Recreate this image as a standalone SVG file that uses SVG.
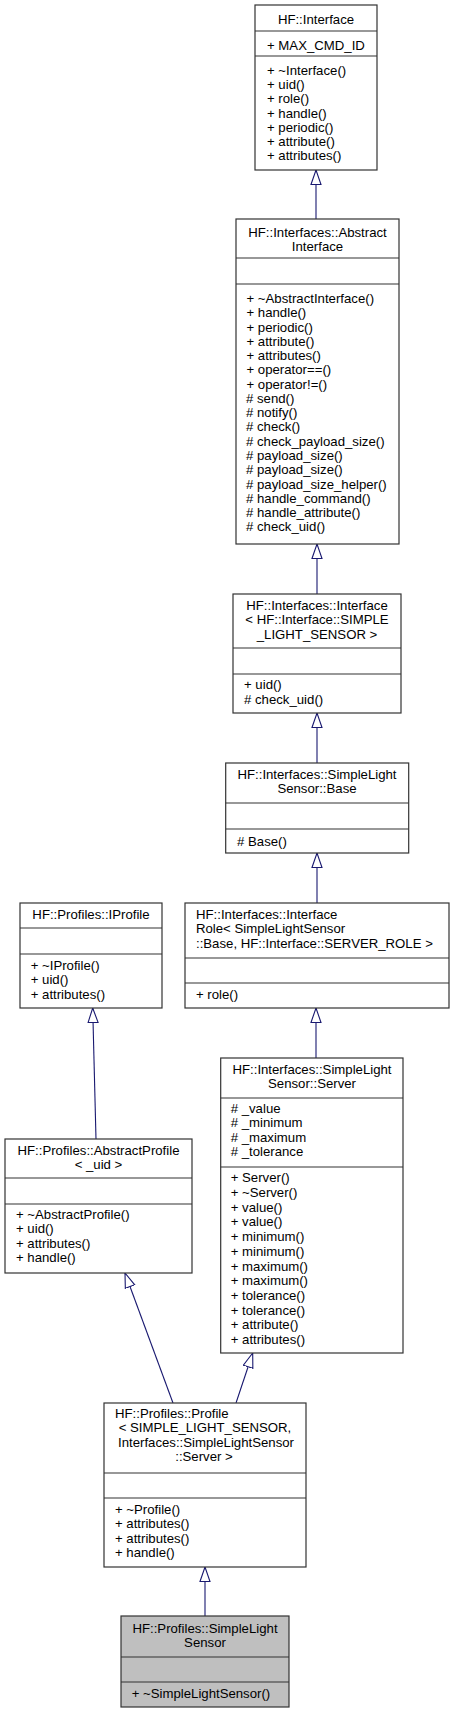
<svg xmlns="http://www.w3.org/2000/svg" width="455" height="1713" viewBox="0 0 455 1713">
<style>
.b{fill:#fff;stroke:#333;stroke-width:1.2}
.g{fill:#bfbfbf;stroke:#333;stroke-width:1.2}
.s{stroke:#333;stroke-width:1.2}
text{font-family:"Liberation Sans",Arial,Helvetica,sans-serif;font-size:13.2px;fill:#000}
.c{text-anchor:middle}
.e{fill:none;stroke:#191970;stroke-width:1.1;marker-end:url(#inh)}
</style>
<defs>
<marker id="inh" markerWidth="16" markerHeight="12" refX="15" refY="6" orient="auto" markerUnits="userSpaceOnUse">
<path d="M0.5,1 L15,6 L0.5,11 Z" fill="#fff" stroke="#191970" stroke-width="1.1"/>
</marker>
</defs>
<rect width="455" height="1713" fill="#fff"/>

<g id="connectors">
<path class="e" d="M316,219 L316,170"/>
<path class="e" d="M317,594 L317,544"/>
<path class="e" d="M317,763 L317,713"/>
<path class="e" d="M317,903 L317,853"/>
<path class="e" d="M316,1058 L316,1008"/>
<path class="e" d="M96,1139 L92.7,1008"/>
<path class="e" d="M173,1403 L125,1273"/>
<path class="e" d="M236,1403 L252.7,1353"/>
<path class="e" d="M205,1616 L205,1567"/>
</g>

<g id="node-HF-Interface">
<rect class="b" x="255" y="5" width="122" height="165"/>
<line class="s" x1="255" y1="31" x2="377" y2="31"/>
<line class="s" x1="255" y1="56" x2="377" y2="56"/>
<text class="c" x="316" y="23.5">HF::Interface</text>
<text x="267" y="50">+ MAX_CMD_ID</text>
<text x="267" y="75">+ ~Interface()</text>
<text x="267" y="89.2">+ uid()</text>
<text x="267" y="103.4">+ role()</text>
<text x="267" y="117.6">+ handle()</text>
<text x="267" y="131.8">+ periodic()</text>
<text x="267" y="146">+ attribute()</text>
<text x="267" y="160.2">+ attributes()</text>
</g>

<g id="node-AbstractInterface">
<rect class="b" x="236" y="219" width="163" height="325"/>
<line class="s" x1="236" y1="258" x2="399" y2="258"/>
<line class="s" x1="236" y1="284" x2="399" y2="284"/>
<text class="c" x="317.5" y="236.5">HF::Interfaces::Abstract</text>
<text class="c" x="317.5" y="251">Interface</text>
<text x="246.5" y="303">+ ~AbstractInterface()</text>
<text x="246.5" y="317.3">+ handle()</text>
<text x="246.5" y="331.5">+ periodic()</text>
<text x="246.5" y="345.8">+ attribute()</text>
<text x="246.5" y="360.1">+ attributes()</text>
<text x="246.5" y="374.4">+ operator==()</text>
<text x="246.5" y="388.6">+ operator!=()</text>
<text x="246" y="402.9"># send()</text>
<text x="246" y="417.2"># notify()</text>
<text x="246" y="431.4"># check()</text>
<text x="246" y="445.7"># check_payload_size()</text>
<text x="246" y="460"># payload_size()</text>
<text x="246" y="474.2"># payload_size()</text>
<text x="246" y="488.5"># payload_size_helper()</text>
<text x="246" y="502.8"># handle_command()</text>
<text x="246" y="517"># handle_attribute()</text>
<text x="246" y="531.3"># check_uid()</text>
</g>

<g id="node-InterfaceTemplate">
<rect class="b" x="233" y="594" width="168" height="119"/>
<line class="s" x1="233" y1="648" x2="401" y2="648"/>
<line class="s" x1="233" y1="674" x2="401" y2="674"/>
<text class="c" x="317" y="609.5">HF::Interfaces::Interface</text>
<text class="c" x="317" y="624">&lt; HF::Interface::SIMPLE</text>
<text class="c" x="317" y="638.5">_LIGHT_SENSOR &gt;</text>
<text x="244" y="689">+ uid()</text>
<text x="244" y="704"># check_uid()</text>
</g>

<g id="node-SLS-Base">
<rect class="b" x="225.7" y="763" width="183" height="90"/>
<line class="s" x1="225.7" y1="803" x2="408.7" y2="803"/>
<line class="s" x1="225.7" y1="829" x2="408.7" y2="829"/>
<text class="c" x="317" y="778.5">HF::Interfaces::SimpleLight</text>
<text class="c" x="317" y="793">Sensor::Base</text>
<text x="237" y="845.5"># Base()</text>
</g>

<g id="node-InterfaceRole">
<rect class="b" x="185" y="903" width="264" height="105"/>
<line class="s" x1="185" y1="958" x2="449" y2="958"/>
<line class="s" x1="185" y1="983" x2="449" y2="983"/>
<text x="196" y="918.5">HF::Interfaces::Interface</text>
<text x="196" y="933">Role&lt; SimpleLightSensor</text>
<text x="196" y="947.5">::Base, HF::Interface::SERVER_ROLE &gt;</text>
<text x="196" y="998.5">+ role()</text>
</g>

<g id="node-SLS-Server">
<rect class="b" x="220.7" y="1058" width="182.3" height="295"/>
<line class="s" x1="220.7" y1="1098" x2="403" y2="1098"/>
<line class="s" x1="220.7" y1="1167" x2="403" y2="1167"/>
<text class="c" x="312" y="1073.5">HF::Interfaces::SimpleLight</text>
<text class="c" x="312" y="1088">Sensor::Server</text>
<text x="230.7" y="1113"># _value</text>
<text x="230.7" y="1127.3"># _minimum</text>
<text x="230.7" y="1141.6"># _maximum</text>
<text x="230.7" y="1156"># _tolerance</text>
<text x="230.7" y="1182.3">+ Server()</text>
<text x="230.7" y="1197">+ ~Server()</text>
<text x="230.7" y="1211.7">+ value()</text>
<text x="230.7" y="1226.4">+ value()</text>
<text x="230.7" y="1241.1">+ minimum()</text>
<text x="230.7" y="1255.8">+ minimum()</text>
<text x="230.7" y="1270.5">+ maximum()</text>
<text x="230.7" y="1285.2">+ maximum()</text>
<text x="230.7" y="1299.9">+ tolerance()</text>
<text x="230.7" y="1314.6">+ tolerance()</text>
<text x="230.7" y="1329.3">+ attribute()</text>
<text x="230.7" y="1344">+ attributes()</text>
</g>

<g id="node-IProfile">
<rect class="b" x="20" y="903" width="142" height="105"/>
<line class="s" x1="20" y1="928" x2="162" y2="928"/>
<line class="s" x1="20" y1="954" x2="162" y2="954"/>
<text class="c" x="91" y="918.5">HF::Profiles::IProfile</text>
<text x="30.7" y="969.5">+ ~IProfile()</text>
<text x="30.7" y="984">+ uid()</text>
<text x="30.7" y="998.5">+ attributes()</text>
</g>

<g id="node-AbstractProfile">
<rect class="b" x="5" y="1139" width="187" height="134"/>
<line class="s" x1="5" y1="1178" x2="192" y2="1178"/>
<line class="s" x1="5" y1="1204" x2="192" y2="1204"/>
<text class="c" x="98.5" y="1154.5">HF::Profiles::AbstractProfile</text>
<text class="c" x="98.5" y="1169">&lt; _uid &gt;</text>
<text x="16" y="1218.5">+ ~AbstractProfile()</text>
<text x="16" y="1233">+ uid()</text>
<text x="16" y="1247.5">+ attributes()</text>
<text x="16" y="1262">+ handle()</text>
</g>

<g id="node-Profile">
<rect class="b" x="104" y="1403" width="202" height="164"/>
<line class="s" x1="104" y1="1473" x2="306" y2="1473"/>
<line class="s" x1="104" y1="1498" x2="306" y2="1498"/>
<text x="115" y="1417.5">HF::Profiles::Profile</text>
<text class="c" x="205" y="1432">&lt; SIMPLE_LIGHT_SENSOR,</text>
<text class="c" x="206" y="1446.5">Interfaces::SimpleLightSensor</text>
<text class="c" x="204" y="1461">::Server &gt;</text>
<text x="115" y="1513.5">+ ~Profile()</text>
<text x="115" y="1528">+ attributes()</text>
<text x="115" y="1542.5">+ attributes()</text>
<text x="115" y="1557">+ handle()</text>
</g>

<g id="node-SimpleLightSensor">
<rect class="g" x="121" y="1616" width="168" height="91"/>
<line class="s" x1="121" y1="1657" x2="289" y2="1657"/>
<line class="s" x1="121" y1="1682" x2="289" y2="1682"/>
<text class="c" x="205" y="1632.5">HF::Profiles::SimpleLight</text>
<text class="c" x="205" y="1647">Sensor</text>
<text x="131.7" y="1697.5">+ ~SimpleLightSensor()</text>
</g>
</svg>
